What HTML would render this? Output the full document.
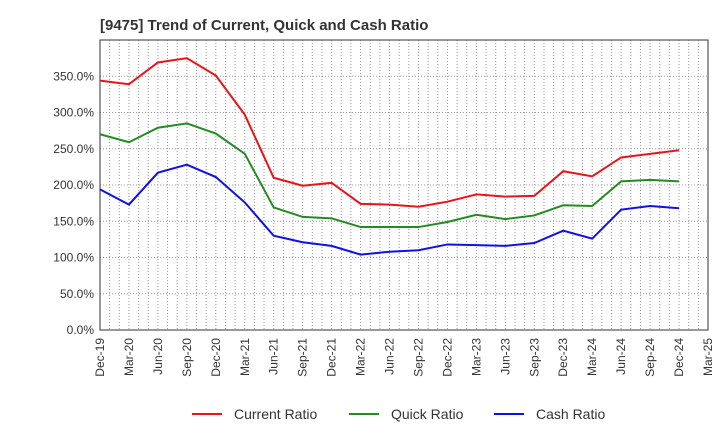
<!DOCTYPE html>
<html><head><meta charset="utf-8"><style>
body{margin:0;background:#fff;font-family:"Liberation Sans",sans-serif}
</style></head><body>
<svg id="chart" width="720" height="440" xmlns="http://www.w3.org/2000/svg" font-family="Liberation Sans, sans-serif">
<text x="100" y="30" font-size="15" font-weight="bold" fill="#333">[9475]  Trend of Current, Quick and Cash Ratio</text>
<g id="grid"></g><g id="axes"></g><g id="series"></g>
<g>
<g><line x1="192" y1="414" x2="222" y2="414" stroke="#e8141a" stroke-width="2"/><text x="234" y="419" font-size="14" fill="#333">Current Ratio</text></g>
<g><line x1="349" y1="414" x2="379" y2="414" stroke="#228b22" stroke-width="2"/><text x="391" y="419" font-size="14" fill="#333">Quick Ratio</text></g>
<g><line x1="494" y1="414" x2="524" y2="414" stroke="#1010e8" stroke-width="2"/><text x="536" y="419" font-size="14" fill="#333">Cash Ratio</text></g>
</g>
</svg>
<script>
const categories=["Dec-19","Mar-20","Jun-20","Sep-20","Dec-20","Mar-21","Jun-21","Sep-21","Dec-21","Mar-22","Jun-22","Sep-22","Dec-22","Mar-23","Jun-23","Sep-23","Dec-23","Mar-24","Jun-24","Sep-24","Dec-24","Mar-25"];
const currentRatio=[344,339,369,375,351,297,210,199,203,174,173,170,177,187,184,185,219,212,238,243,248];
const quickRatio=[270,259,279,285,271,243,169,156,154,142,142,142,149,159,153,158,172,171,205,207,205];
const cashRatio=[194,173,217,228,211,176,130,121,116,104,108,110,118,117,116,120,137,126,166,171,168];
const yTicks=[0,50,100,150,200,250,300,350];
const NS="http://www.w3.org/2000/svg";
const X0=100,X1=708,Y0=330,YT=40,YMAX=400;
const xs=i=>X0+i*(X1-X0)/(categories.length-1);
const ys=v=>Y0-v*(Y0-YT)/YMAX;
function mk(tag,attrs,parent){const e=document.createElementNS(NS,tag);for(const k in attrs)e.setAttribute(k,attrs[k]);parent.appendChild(e);return e;}
const grid=document.getElementById('grid'),axes=document.getElementById('axes'),ser=document.getElementById('series');
yTicks.forEach(t=>{
 const l=mk('line',{x1:X0,x2:X1,y1:ys(t),y2:ys(t),stroke:'#999','stroke-dasharray':'1,2'},grid);
 
 
 const tx=mk('text',{x:X0-6,y:ys(t)+4,'text-anchor':'end','font-size':12,fill:'#333'},axes);
 tx.textContent=t.toFixed(1)+'%';
 
 
});
for(let m=1;m<(categories.length-1)*3;m++){
 const x=X0+m*(X1-X0)/((categories.length-1)*3);
 const l=mk('line',{x1:x,x2:x,y1:YT,y2:Y0,stroke:'#999','stroke-dasharray':'1,2'},grid);
 
 
}
mk('rect',{x:X0,y:YT,width:X1-X0,height:Y0-YT,fill:'none',stroke:'#333'},axes);
categories.forEach((c,i)=>{
 const x=xs(i);
 const tx=mk('text',{x:x+4,y:Y0+8,'text-anchor':'end','font-size':12,fill:'#333',transform:`rotate(-90 ${x+4} ${Y0+8})`},axes);
 tx.textContent=c;
 
 
});
[[currentRatio,'#e8141a','current-ratio-line'],[quickRatio,'#228b22','quick-ratio-line'],[cashRatio,'#1010e8','cash-ratio-line']].forEach(([d,c,n])=>{
 const p=mk('polyline',{points:d.map((v,i)=>xs(i)+','+ys(v)).join(' '),fill:'none',stroke:c,'stroke-width':2},ser);
 
 
});
</script>
</body></html>
